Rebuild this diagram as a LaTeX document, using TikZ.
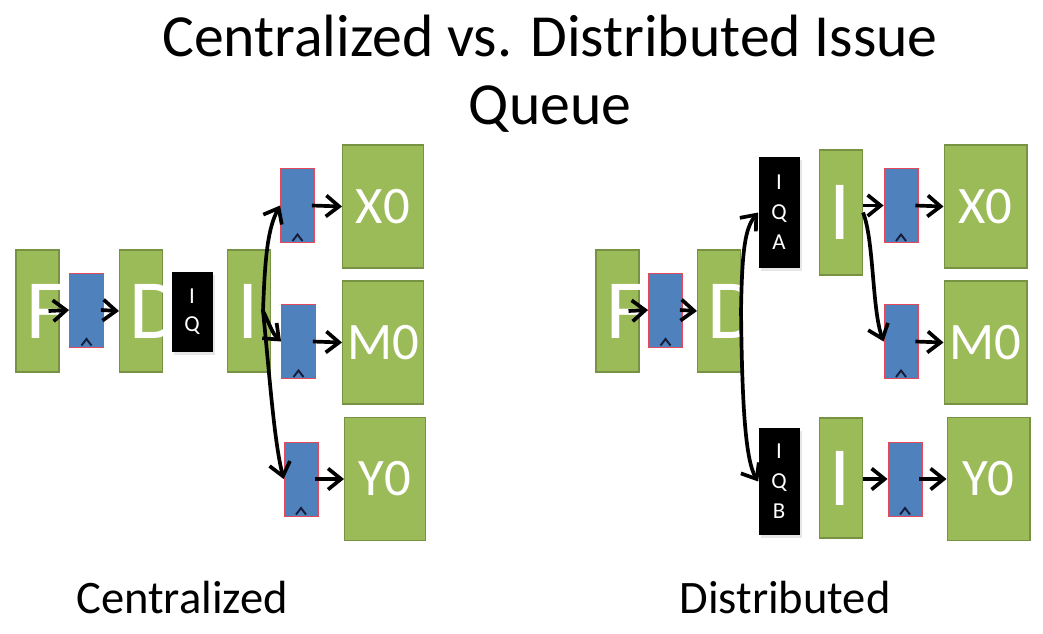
\documentclass[tikz,border=0pt]{standalone}
\usepackage{fontspec}
\setmainfont{Carlito}
\usetikzlibrary{arrows.meta,positioning,shadows}
\definecolor{stagegreen}{RGB}{155,187,89}
\definecolor{stageedge}{RGB}{118,146,66}
\definecolor{regblue}{RGB}{79,129,189}
\definecolor{regred}{RGB}{226,74,92}
\definecolor{caretnavy}{RGB}{20,30,60}

\begin{document}
\begin{tikzpicture}[x=0.02cm, y=-0.02cm,
  stage/.style={draw=stageedge, fill=stagegreen, line width=0.6pt, minimum width=0.86cm, minimum height=2.44cm, inner xsep=0.2cm, inner ysep=0pt, text width=0.46cm, align=left, text=white, font=\fontsize{48}{48}\selectfont},
  unit/.style={draw=stageedge, fill=stagegreen, line width=0.6pt, minimum width=1.62cm, minimum height=2.46cm, inner sep=0pt, text=white, font=\fontsize{30}{30}\selectfont},
  pipereg/.style={draw=regred, fill=regblue, line width=0.5pt, minimum width=0.68cm, minimum height=1.48cm, inner sep=0pt,
    path picture={\draw[caretnavy, line width=1.1pt] ([xshift=-1mm,yshift=0.3mm]path picture bounding box.south) -- ++(1mm,1.3mm) -- ++(1mm,-1.3mm);}},
  iq/.style={fill=black, text=white, align=center, inner sep=0pt, minimum width=0.82cm, font=\fontsize{13}{17}\selectfont,
    drop shadow={opacity=0.2, shadow xshift=1.5pt, shadow yshift=-1.5pt}},
  wire/.style={line width=2.1pt, -{Straight Barb[length=2.6mm, width=4.2mm]}},
  caption/.style={font=\fontsize{26.5}{30}\selectfont, inner sep=0pt}
]
\useasboundingbox (0,0) rectangle (1043,633);

\node[font=\fontsize{34}{38.4}\selectfont, align=center, anchor=north, inner sep=0pt] (title) at (550,15) {Centralized vs. Distributed Issue\\Queue};

% centralized
\node[stage] (Fc) at (37.5,311) {F};
\node[stage] (Dc) at (141,311) {D};
\node[iq, minimum height=1.6cm, font=\fontsize{13}{16}\selectfont] (IQc) at (192,312) {I\\Q};
\node[stage] (Ic) at (249,311) {I};
\node[pipereg] (rFc) at (86.5,310) {};
\node[pipereg] (rXc) at (297.5,205.5) {};
\node[pipereg] (rMc) at (298.5,341.5) {};
\node[pipereg] (rYc) at (301,479) {};
\node[unit] (Xc) at (383,206.5) {X0};
\node[unit] (Mc) at (383,342.5) {M0};
\node[unit] (Yc) at (385,479) {Y0};
\node[caption, anchor=base] (cent) at (182,613) {Centralized};

\draw[wire] ([xshift=-0.22cm]Fc.east) -- (rFc.west);
\draw[wire] ([xshift=-0.06cm]rFc.east) -- (Dc.west);
\coordinate (fanc) at ([xshift=-0.16cm]Ic.east);
\draw[wire] (fanc) .. controls (265,255) and (268,228) .. (rXc.west);
\draw[wire] (fanc) .. controls (270,325) and (272,333) .. (rMc.west);
\draw[wire] (fanc) .. controls (270,380) and (274,440) .. (rYc.west);

% distributed
\node[stage] (Fd) at (617.5,311) {F};
\node[stage] (Dd) at (719,311) {D};
\node[iq, minimum height=2.22cm] (IQA) at (779,212.5) {I\\Q\\A};
\node[iq, minimum height=2.14cm] (IQB) at (779,481.5) {I\\Q\\B};
\node[stage, minimum height=2.5cm] (Ia) at (841,212.5) {I};
\node[stage, minimum height=2.4cm] (Ib) at (841,478) {I};
\node[pipereg] (rFd) at (665.5,310) {};
\node[pipereg] (rXd) at (901,205.5) {};
\node[pipereg] (rMd) at (901,341.5) {};
\node[pipereg] (rYd) at (905,479) {};
\node[unit, minimum width=1.66cm] (Xd) at (985.5,206.5) {X0};
\node[unit, minimum width=1.66cm] (Md) at (985.5,342.5) {M0};
\node[unit, minimum width=1.66cm] (Yd) at (988.5,479) {Y0};
\node[caption, anchor=base] (dist) at (785,613) {Distributed};

\draw[wire] ([xshift=-0.22cm]Fd.east) -- (rFd.west);
\draw[wire] ([xshift=-0.06cm]rFd.east) -- (Dd.west);
\draw[wire] (Dd.east) .. controls (742,250) and (745,228) .. (IQA.west);
\draw[wire] (Dd.east) .. controls (742,400) and (745,460) .. (IQB.west);
\draw[wire] (Ia.east |- rXd.west) -- (rXd.west);
\draw[wire] (Ia.east) .. controls (874,240) and (872,310) .. (rMd.west);
\draw[wire] (Ib.east |- rYd.west) -- (rYd.west);

\foreach \r/\u in {rXc/Xc, rMc/Mc, rYc/Yc, rXd/Xd, rMd/Md, rYd/Yd}
  \draw[wire] ([xshift=-0.06cm]\r.east) -- (\u.west);
\end{tikzpicture}
\end{document}
